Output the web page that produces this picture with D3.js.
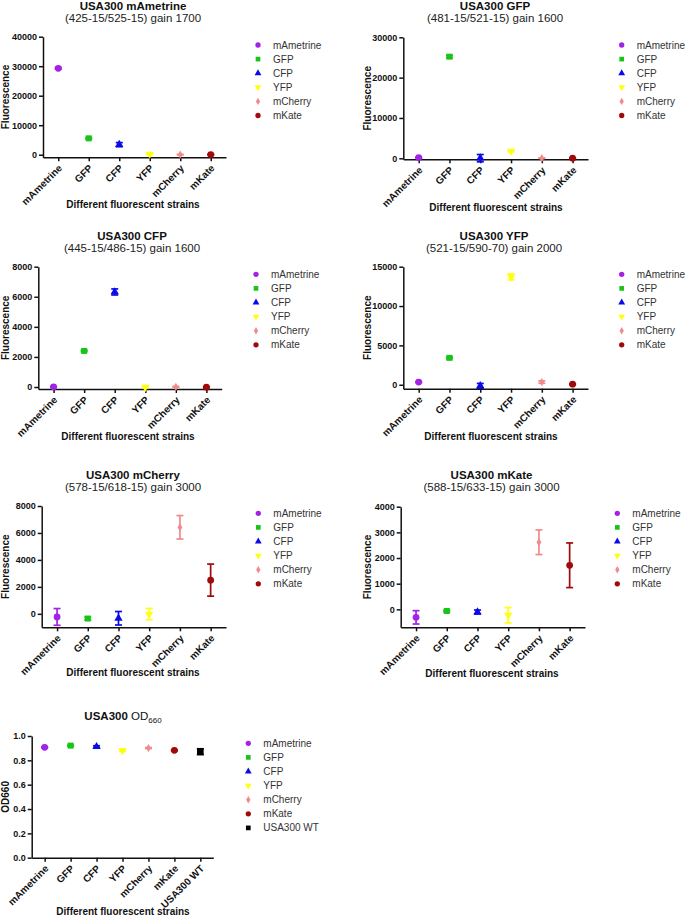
<!DOCTYPE html>
<html><head><meta charset="utf-8">
<script src="https://cdn.jsdelivr.net/npm/d3@7"></script>
<style>
body{margin:0;background:#fff}
svg{display:block}
text{font-family:"Liberation Sans",Arial,Helvetica,sans-serif}
</style>
</head><body>
<svg id="chart" width="685" height="916"></svg>
<script>
// ---------------- DATA ----------------
const strains = ["mAmetrine", "GFP", "CFP", "YFP", "mCherry", "mKate"];
const odStrains = ["mAmetrine", "GFP", "CFP", "YFP", "mCherry", "mKate", "USA300 WT"];

const titles = ["USA300 mAmetrine", "USA300 GFP", "USA300 CFP", "USA300 YFP", "USA300 mCherry", "USA300 mKate"];
const subtitles = ["(425-15/525-15) gain 1700", "(481-15/521-15) gain 1600", "(445-15/486-15) gain 1600",
                   "(521-15/590-70) gain 2000", "(578-15/618-15) gain 3000", "(588-15/633-15) gain 3000"];
const xAxisTitle = "Different fluorescent strains";
const yAxisTitle = "Fluorescence";
const yAxisTitleOD = "OD660";

const ticksMAmetrine = [0, 10000, 20000, 30000, 40000];
const ticksGFP = [0, 10000, 20000, 30000];
const ticksCFP = [0, 2000, 4000, 6000, 8000];
const ticksYFP = [0, 5000, 10000, 15000];
const ticksMCherry = [0, 2000, 4000, 6000, 8000];
const ticksMKate = [0, 1000, 2000, 3000, 4000];
const ticksOD = [0.0, 0.2, 0.4, 0.6, 0.8, 1.0];

const meanMAmetrine = [29300, 5550, 3400, 220, 30, 40];
const errMAmetrine  = [300, 250, 700, 150, 50, 50];
const meanGFP = [170, 25200, 30, 1800, 20, 30];
const errGFP  = [100, 300, 900, 200, 50, 50];
const meanCFP = [10, 2400, 6320, -10, 10, -10];
const errCFP  = [30, 50, 200, 30, 30, 30];
const meanYFP = [340, 3420, -130, 13700, 340, 80];
const errYFP  = [50, 100, 300, 380, 150, 50];
const meanMCherry = [-230, -350, -330, -20, 6420, 2500];
const errMCherry  = [620, 100, 500, 420, 870, 1190];
const meanMKate = [-312, -65, -104, -230, 2614, 1717];
const errMKate  = [260, 30, 78, 300, 480, 870];
const meanOD = [0.907, 0.921, 0.912, 0.882, 0.901, 0.882, 0.871];
const errOD  = [0.004, 0.004, 0.008, 0.008, 0.004, 0.004, 0.024];

// ---------------- STYLE / LAYOUT ----------------
const colorOf = {mAmetrine:"#a322e6", GFP:"#18c418", CFP:"#0a0ae8", YFP:"#ffff10", mCherry:"#f28a8c", mKate:"#a00a0a", "USA300 WT":"#000000"};
const symbolOf = {mAmetrine:d3.symbolCircle, GFP:d3.symbolSquare, CFP:d3.symbolTriangle, YFP:d3.symbolTriangle, mCherry:d3.symbolDiamond, mKate:d3.symbolCircle, "USA300 WT":d3.symbolSquare};
const rotOf = {YFP:180};

const panels = [
  {cats:strains, mean:meanMAmetrine, err:errMAmetrine, ticks:ticksMAmetrine, title:titles[0], sub:subtitles[0], yt:yAxisTitle},
  {cats:strains, mean:meanGFP, err:errGFP, ticks:ticksGFP, title:titles[1], sub:subtitles[1], yt:yAxisTitle},
  {cats:strains, mean:meanCFP, err:errCFP, ticks:ticksCFP, title:titles[2], sub:subtitles[2], yt:yAxisTitle},
  {cats:strains, mean:meanYFP, err:errYFP, ticks:ticksYFP, title:titles[3], sub:subtitles[3], yt:yAxisTitle},
  {cats:strains, mean:meanMCherry, err:errMCherry, ticks:ticksMCherry, title:titles[4], sub:subtitles[4], yt:yAxisTitle},
  {cats:strains, mean:meanMKate, err:errMKate, ticks:ticksMKate, title:titles[5], sub:subtitles[5], yt:yAxisTitle},
  {cats:odStrains, mean:meanOD, err:errOD, ticks:ticksOD, title:null, sub:null, yt:yAxisTitleOD, od:true}
];

const layout = [
  {x0:43,    x1:226,   yTop:36.7,  yBot:157.3, yMin:-880,  tx:133,   ty:10,    sy:22,    lx:258,   ly:45,    ytx:8.6,   xtx:133,   xty:207.6},
  {x0:403.3, x1:588,   yTop:37.3,  yBot:159.3, yMin:-250,  tx:495,   ty:10,    sy:22,    lx:621.7, ly:45,    ytx:370.5, xtx:496,   xty:211},
  {x0:38.3,  x1:221.7, yTop:266.7, yBot:389,   yMin:-133,  tx:132,   ty:240,   sy:252,   lx:256,   ly:274.3, ytx:8.6,   xtx:128,   xty:440},
  {x0:403.3, x1:588,   yTop:266.7, yBot:388.7, yMin:-500,  tx:494,   ty:240,   sy:252,   lx:621.7, ly:274.3, ytx:370.5, xtx:491,   xty:439.6},
  {x0:41.7,  x1:226,   yTop:506,   yBot:627.3, yMin:-1000, tx:133,   ty:478.5, sy:490.5, lx:258.3, ly:513.3, ytx:8.6,   xtx:133,   xty:676},
  {x0:400.7, x1:585,   yTop:506.7, yBot:627.3, yMin:-700,  tx:491.5, ty:478.5, sy:490.5, lx:617.3, ly:513.3, ytx:370.5, xtx:492,   xty:677},
  {x0:31.7,  x1:213.3, yTop:736,   yBot:857.7, yMin:0,     tx:123,   ty:720,   sy:null,  lx:248.3, ly:743.3, ytx:8.6,   xtx:123,   xty:914.6}
];

const svg = d3.select("#chart");

panels.forEach((p, i) => {
  const L = layout[i];
  const g = svg.append("g");
  const yMax = p.ticks[p.ticks.length - 1];
  const x = d3.scalePoint().domain(p.cats).range([L.x0, L.x1]).padding(0.5);
  const y = d3.scaleLinear().domain([L.yMin, yMax]).range([L.yBot, L.yTop]);

  // Y axis
  const fmt = p.od ? d3.format(".1f") : d3.format("d");
  const ya = g.append("g").attr("transform", `translate(${L.x0},0)`)
    .call(d3.axisLeft(y).tickValues(p.ticks).tickFormat(fmt).tickSize(4).tickSizeOuter(0).tickPadding(2));
  // X axis
  const xa = g.append("g").attr("transform", `translate(0,${L.yBot})`)
    .call(d3.axisBottom(x).tickSize(4).tickSizeOuter(0).tickFormat(""));
  [ya, xa].forEach(a => {
    a.select(".domain").attr("stroke", "#111").attr("stroke-width", 1.5);
    a.selectAll(".tick line").attr("stroke", "#111").attr("stroke-width", 1.5);
  });
  ya.selectAll(".tick text").attr("font-size", 9).attr("font-weight", "bold").attr("fill", "#111")
    .attr("font-family", "'Liberation Sans',Arial,sans-serif");

  // rotated category labels
  g.append("g").selectAll("text").data(p.cats).join("text")
    .attr("transform", d => `translate(${x(d) + 2},${L.yBot + 9}) rotate(-45)`)
    .attr("text-anchor", "end")
    .attr("dy", "0.35em")
    .attr("font-size", 10).attr("font-weight", "bold").attr("fill", "#111")
    .text(d => d);

  // axis titles
  g.append("text").attr("x", L.xtx).attr("y", L.xty).attr("text-anchor", "middle")
    .attr("font-size", 10).attr("font-weight", "bold").attr("fill", "#111").text(xAxisTitle);
  g.append("text").attr("transform", `translate(${L.ytx},${(L.yTop + L.yBot) / 2}) rotate(-90)`)
    .attr("text-anchor", "middle").attr("font-size", 10).attr("font-weight", "bold").attr("fill", "#111")
    .text(p.yt);

  // titles
  if (p.od) {
    const t = g.append("text").attr("x", L.tx).attr("y", L.ty).attr("text-anchor", "middle")
      .attr("font-size", 11.5).attr("fill", "#111");
    t.append("tspan").attr("font-weight", "bold").text("USA300 ");
    t.append("tspan").text("OD");
    t.append("tspan").attr("font-size", 8).attr("dy", 3).text("660");
  } else {
    g.append("text").attr("x", L.tx).attr("y", L.ty).attr("text-anchor", "middle")
      .attr("font-size", 11.5).attr("font-weight", "bold").attr("fill", "#111").text(p.title);
    g.append("text").attr("x", L.tx).attr("y", L.sy).attr("text-anchor", "middle")
      .attr("font-size", 11.5).attr("fill", "#222").text(p.sub);
  }

  // error bars
  const rows = p.cats.map((c, k) => ({c, m: p.mean[k], e: p.err[k]}));
  const eb = g.append("g").selectAll("g").data(rows).join("g")
    .attr("stroke", d => colorOf[d.c]).attr("stroke-width", 1.7);
  eb.append("line").attr("x1", d => x(d.c)).attr("x2", d => x(d.c))
    .attr("y1", d => y(d.m - d.e)).attr("y2", d => y(d.m + d.e));
  eb.append("line").attr("x1", d => x(d.c) - 3.5).attr("x2", d => x(d.c) + 3.5)
    .attr("y1", d => y(d.m + d.e)).attr("y2", d => y(d.m + d.e));
  eb.append("line").attr("x1", d => x(d.c) - 3.5).attr("x2", d => x(d.c) + 3.5)
    .attr("y1", d => y(d.m - d.e)).attr("y2", d => y(d.m - d.e));

  // markers
  const mSize = d => d === "CFP" || d === "YFP" ? 30 : (d === "mCherry" ? 20 : (d === "USA300 WT" ? 44 : 36));
  g.append("g").selectAll("path").data(rows).join("path")
    .attr("d", d => d3.symbol().type(symbolOf[d.c]).size(mSize(d.c))())
    .attr("transform", d => `translate(${x(d.c)},${y(d.m)}) rotate(${rotOf[d.c] || 0})`)
    .attr("fill", d => colorOf[d.c]);

  // legend
  const lg = g.append("g").selectAll("g").data(p.cats).join("g")
    .attr("transform", (d, k) => `translate(${L.lx},${L.ly + k * 14.1})`);
  lg.append("path")
    .attr("d", d => d3.symbol().type(symbolOf[d]).size(d === "CFP" || d === "YFP" ? 20 : (d === "mCherry" ? 16 : 22))())
    .attr("transform", d => `rotate(${rotOf[d] || 0})`)
    .attr("fill", d => colorOf[d]);
  lg.append("text").attr("x", 15).attr("dy", "0.35em").attr("font-size", 10).attr("fill", "#333").text(d => d);
});
</script>
</body></html>
